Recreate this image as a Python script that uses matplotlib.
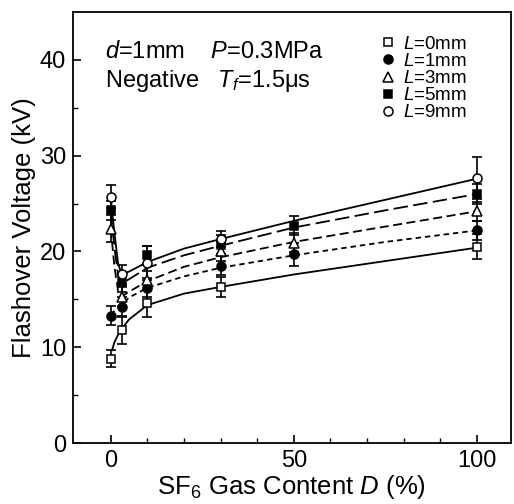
import numpy as np
import matplotlib
matplotlib.use("Agg")
import matplotlib.pyplot as plt

plt.rcParams['font.family'] = ['Liberation Sans', 'DejaVu Sans']
plt.rcParams['mathtext.fontset'] = 'custom'
plt.rcParams['mathtext.rm'] = 'Liberation Sans'
plt.rcParams['mathtext.it'] = 'Liberation Sans:italic'
plt.rcParams['mathtext.default'] = 'it'

# measured points (SF6 content %, flashover voltage kV)
x_pts = [0, 3, 10, 30, 50, 100]
v_L0 = [8.8, 11.8, 14.6, 16.3, np.nan, 20.5]
e_L0 = [0.9, 1.5, 1.4, 1.0, np.nan, 1.3]
v_L1 = [13.3, 14.2, 16.2, 18.5, 19.7, 22.2]
e_L1 = [1.0, 1.0, 1.0, 1.0, 1.2, 1.0]
v_L3 = [22.4, 15.3, 17.0, 20.0, 20.9, 24.2]
e_L3 = [1.4, 1.0, 1.0, 1.0, 1.0, 1.0]
v_L5 = [24.3, 16.8, 19.6, 20.7, 22.7, 26.0]
e_L5 = [1.0, 1.0, 1.0, 1.0, 1.0, 1.0]
v_L9 = [25.7, 17.6, 18.8, 21.3, np.nan, 27.7]
e_L9 = [1.2, 1.0, 1.8, 0.8, np.nan, 2.2]

# fitted curves
x_fit = [0, 1, 2, 3, 5, 10, 20, 30, 50, 75, 100]
x_fit0 = [0.3, 1, 2, 3, 5, 10, 20, 30, 50, 75, 100]
f_L0 = [9.6, 10.5, 11.3, 11.9, 12.9, 14.4, 15.6, 16.3, 17.6, 19.0, 20.4]
f_L1 = [13.4, 13.8, 14.1, 14.4, 15.2, 16.2, 17.4, 18.3, 19.6, 21.0, 22.2]
f_L3 = [22.4, 18.5, 15.9, 15.3, 15.8, 16.9, 18.4, 19.4, 21.0, 22.6, 24.2]
f_L5 = [24.3, 20.5, 17.5, 16.7, 17.1, 18.3, 19.6, 20.6, 22.5, 24.3, 26.0]
f_L9 = [25.7, 22.0, 18.8, 17.6, 17.9, 18.9, 20.3, 21.3, 23.2, 25.4, 27.6]

labels = ['$L$=0mm', '$L$=1mm', '$L$=3mm', '$L$=5mm', '$L$=9mm']

fig = plt.figure(figsize=(5.14, 5.04), dpi=100)
ax = fig.add_axes([0.142, 0.121, 0.852, 0.855])

series = [
    (x_fit0, f_L0, v_L0, e_L0, 's', 'white', (0, ())),
    (x_fit, f_L1, v_L1, e_L1, 'o', 'black', (0, (3, 2.2))),
    (x_fit, f_L3, v_L3, e_L3, '^', 'white', (0, (5, 2.5))),
    (x_fit, f_L5, v_L5, e_L5, 's', 'black', (0, (8, 3))),
    (x_fit, f_L9, v_L9, e_L9, 'o', 'white', (0, ())),
]

handles = []
for (xf, yf, v, e, mk, fc, ls), lab in zip(series, labels):
    ax.plot(xf, yf, color='black', lw=1.3, linestyle=ls, zorder=2)
    ax.errorbar(x_pts, v, yerr=e, fmt='none', ecolor='black', elinewidth=1.2,
                capsize=3.5, capthick=1.2, zorder=3)
    ms = 6.5 if mk != 's' else 6
    h, = ax.plot(x_pts, v, linestyle='none', marker=mk, markersize=ms,
                 markerfacecolor=fc, markeredgecolor='black', markeredgewidth=1.1,
                 zorder=4, label=lab)
    handles.append(h)

ax.set_xlim(-10.3, 109.3)
ax.set_ylim(0, 45)
ax.set_xticks([0, 50, 100])
ax.set_xticks(np.arange(10, 101, 10), minor=True)
ax.set_yticks([0, 10, 20, 30, 40])
ax.set_yticks([5, 15, 25, 35], minor=True)
ax.tick_params(axis='both', which='major', direction='in', length=6, width=1.2,
               labelsize=17, top=False, right=False, pad=5)
ax.tick_params(axis='both', which='minor', direction='in', length=3.5, width=1.0,
               top=False, right=False)
for s in ax.spines.values():
    s.set_linewidth(1.3)

ax.set_xlabel('SF$_{\\mathrm{6}}$ Gas Content $D$ (%)', fontsize=18.5, labelpad=1)
ax.set_ylabel('Flashover Voltage (kV)', fontsize=18.5, labelpad=3)

ax.text(0.073, 0.893, '$d$=1mm    $P$=0.3MPa', transform=ax.transAxes,
        fontsize=17, va='baseline', ha='left')
ax.text(0.073, 0.826, 'Negative   $T_{f}$=1.5\u03bcs', transform=ax.transAxes,
        fontsize=17, va='baseline', ha='left')

leg = ax.legend(handles=handles, loc='upper left', bbox_to_anchor=(0.698, 0.945),
                frameon=False, fontsize=13.5, handlelength=1.0, handletextpad=0.3,
                labelspacing=0.0, borderpad=0, borderaxespad=0)

fig.savefig('out.png', dpi=100)
